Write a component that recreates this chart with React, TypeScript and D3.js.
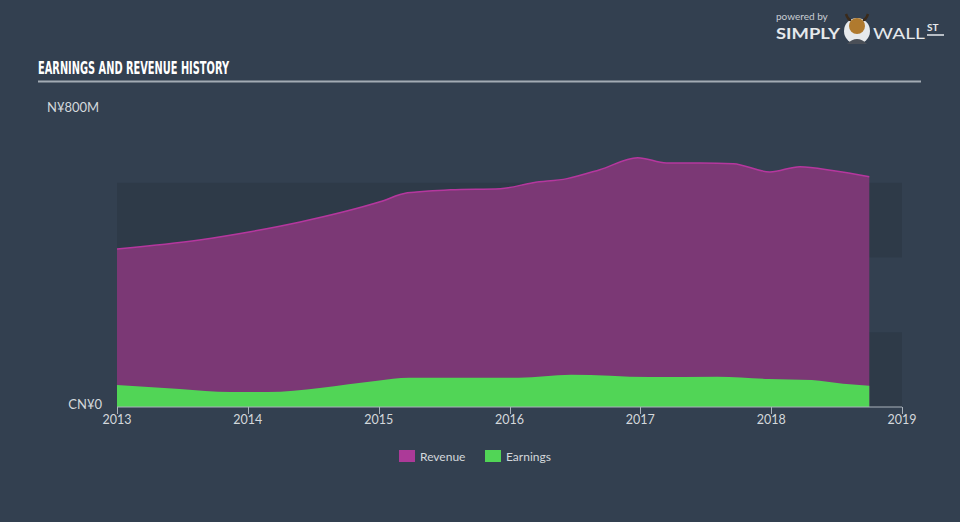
import React from "react";
import * as d3 from "d3";

const revenueDates = [2013.0, 2013.63, 2014.02, 2014.4, 2015.01, 2015.22, 2015.55, 2015.93, 2016.18, 2016.44, 2016.69, 2016.98, 2017.2, 2017.46, 2017.71, 2017.99, 2018.22, 2018.48, 2018.75];
const revenueValues = [423, 447, 469, 495, 549, 573, 581, 584, 600, 611, 635, 667, 653, 653, 651, 629, 643, 632, 616];
const earningsDates = [2013.0, 2013.48, 2013.87, 2014.15, 2014.55, 2014.99, 2015.23, 2016.07, 2016.47, 2017.07, 2017.59, 2017.98, 2018.31, 2018.55, 2018.75];
const earningsValues = [59, 48, 40, 40, 51, 70, 78, 78, 86, 80, 81, 75, 72, 62, 57];
const xTicks = [2013, 2014, 2015, 2016, 2017, 2018, 2019];
const yLabels = ["CN¥0", "N¥800M"];
const legendItems = ["Revenue", "Earnings"];

const W = 960;
const H = 522;
const BG = "#334050";
const BAND = "#2e3a48";
const REV_FILL = "#7b3875";
const REV_LINE = "#b5379e";
const REV_SWATCH = "#ac3a98";
const EARN_FILL = "#51d556";
const FONT = "Lato, 'Open Sans', sans-serif";

export default function App() {
  const x = d3.scaleLinear().domain([2013, 2019]).range([117, 902]);
  const y = d3.scaleLinear().domain([0, 800]).range([407, 108]);

  const rev = revenueDates.map((d, i) => [d, revenueValues[i]] as [number, number]);
  const earn = earningsDates.map((d, i) => [d, earningsValues[i]] as [number, number]);

  const area = d3
    .area<[number, number]>()
    .x((d) => x(d[0]))
    .y0(y(0))
    .y1((d) => y(d[1]))
    .curve(d3.curveMonotoneX);
  const line = d3
    .line<[number, number]>()
    .x((d) => x(d[0]))
    .y((d) => y(d[1]))
    .curve(d3.curveMonotoneX);

  const bands = [
    [600, 400],
    [200, 0],
  ];

  return (
    <svg
      width={W}
      height={H}
      style={{ position: "absolute", left: 0, top: 0, display: "block" }}
    >
      <rect x={0} y={0} width={W} height={H} fill={BG} />

      {/* Logo */}
      <text x={776} y={20} fill="#c9ced4" fontSize={10} fontFamily={FONT}>
        powered by
      </text>
      <text x={776} y={39} fill="#e6e9ec" fontSize={16} fontWeight={700} fontFamily={FONT} textLength={64} lengthAdjust="spacingAndGlyphs">
        SIMPLY
      </text>
      <circle cx={857} cy={31} r={13} fill="#e6e9ec" />
      <circle cx={857} cy={26} r={8} fill="#b07a2e" />
      <path d="M846 14 Q848 20 851 20 M868 14 Q866 20 863 20" stroke="#3a2a1a" strokeWidth={2.5} fill="none" />
      <path d="M847 44 Q857 34 867 44 Z" fill="#4a4f57" />
      <text x={873} y={39} fill="#e6e9ec" fontSize={16} fontFamily={FONT} textLength={52} lengthAdjust="spacingAndGlyphs">
        WALL
      </text>
      <text x={927} y={31} fill="#e6e9ec" fontSize={10} fontWeight={700} fontFamily={FONT}>
        ST
      </text>
      <line x1={927} x2={944} y1={35} y2={35} stroke="#e6e9ec" strokeWidth={1.5} />

      {/* Title */}
      <text
        x={38}
        y={74}
        fill="#ffffff"
        fontSize={18}
        fontWeight={700}
        fontFamily="'Liberation Sans Narrow', 'DejaVu Sans Condensed', sans-serif"
        textLength={191}
        lengthAdjust="spacingAndGlyphs"
      >
        EARNINGS AND REVENUE HISTORY
      </text>
      <line x1={38} x2={921} y1={81.5} y2={81.5} stroke="#a3abb4" strokeWidth={2} />

      {/* Bands */}
      {bands.map((b, i) => (
        <rect key={i} x={x(2013)} y={y(b[0])} width={x(2019) - x(2013)} height={y(b[1]) - y(b[0])} fill={BAND} />
      ))}

      {/* Areas */}
      <path d={area(rev) || ""} fill={REV_FILL} />
      <path d={line(rev) || ""} fill="none" stroke={REV_LINE} strokeWidth={1.5} />
      <path d={area(earn) || ""} fill={EARN_FILL} />

      {/* Y labels */}
      <text x={47} y={112} textAnchor="start" fill="#d4d8dc" fontSize={13} fontFamily={FONT}>
        {yLabels[1]}
      </text>
      <text x={102} y={409} textAnchor="end" fill="#d4d8dc" fontSize={13} fontFamily={FONT}>
        {yLabels[0]}
      </text>

      {/* X axis */}
      <line x1={x(2013)} x2={x(2019)} y1={407} y2={407} stroke="#aab2bb" strokeWidth={1} />
      {xTicks.map((t) => (
        <g key={t}>
          <line x1={Math.round(x(t)) + 0.5} x2={Math.round(x(t)) + 0.5} y1={407} y2={414} stroke="#aab2bb" strokeWidth={1} />
          <text x={x(t)} y={424} textAnchor="middle" fill="#d4d8dc" fontSize={12.5} fontFamily={FONT}>
            {t}
          </text>
        </g>
      ))}

      {/* Legend */}
      <rect x={399} y={450} width={16} height={12} fill={REV_SWATCH} />
      <text x={420} y={460.5} fill="#d4d8dc" fontSize={12} fontFamily={FONT}>
        {legendItems[0]}
      </text>
      <rect x={485} y={450} width={16} height={12} fill={EARN_FILL} />
      <text x={506} y={460.5} fill="#d4d8dc" fontSize={12} fontFamily={FONT}>
        {legendItems[1]}
      </text>
    </svg>
  );
}
